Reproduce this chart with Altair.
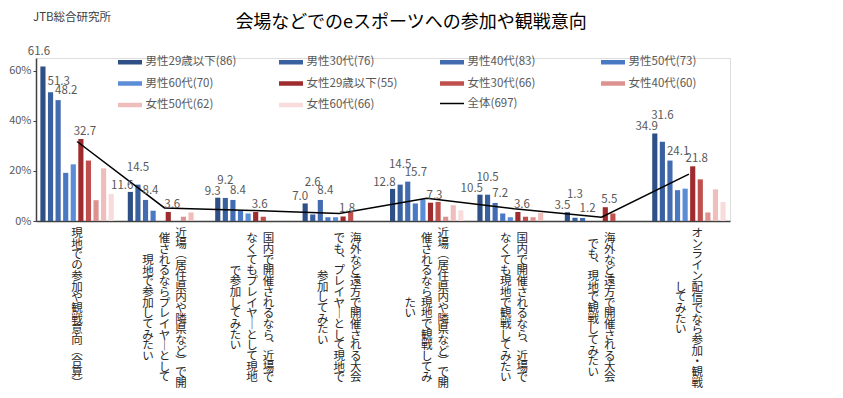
import altair as alt
import pandas as pd

FONT = "Noto Sans CJK JP"

title_text = "会場などでのeスポーツへの参加や観戦意向"
source_text = "JTB総合研究所"

# x-axis label text, one list of columns (right to left) per category
label_columns = [
    ["現地での参加や観戦意向(合算)"],
    ["近場(居住県内や隣県など)で開", "催されるならプレイヤーとして", "現地で参加してみたい"],
    ["国内で開催されるなら、近場で", "なくてもプレイヤーとして現地", "で参加してみたい"],
    ["海外など遠方で開催される大会", "でも、プレイヤーとして現地で", "参加してみたい"],
    ["近場(居住県内や隣県など)で開", "催されるなら現地で観戦してみ", "たい"],
    ["国内で開催されるなら、近場で", "なくても現地で観戦してみたい"],
    ["海外など遠方で開催される大会", "でも、現地で観戦してみたい"],
    ["オンライン配信でなら参加・観戦", "してみたい"],
]
categories = ["".join(c) for c in label_columns]

series = ["男性29歳以下(86)", "男性30代(76)", "男性40代(83)", "男性50代(73)", "男性60代(70)",
          "女性29歳以下(55)", "女性30代(66)", "女性40代(60)", "女性50代(62)", "女性60代(66)"]
total_name = "全体(697)"

m29 = [61.6, 11.6, 9.3, 7.0, 12.8, 10.5, 3.5, 34.9]
m30 = [51.3, 14.5, 9.2, 2.6, 14.5, 10.5, 1.3, 31.6]
m40 = [48.2, 8.4, 8.4, 8.4, 15.7, 7.2, 1.2, 24.1]
m50 = [19.2, 4.1, 4.1, 1.5, 7.0, 3.0, 0.0, 12.3]
m60 = [22.6, 0.0, 3.0, 1.5, 8.7, 1.5, 0.0, 12.9]
f29 = [32.7, 3.6, 3.6, 1.8, 7.3, 3.6, 5.5, 21.8]
f30 = [24.1, 0.0, 1.7, 3.7, 7.6, 1.7, 3.0, 16.6]
f40 = [8.3, 1.7, 0.0, 0.0, 1.7, 1.5, 0.0, 3.4]
f50 = [21.0, 3.4, 0.0, 0.0, 6.3, 3.3, 0.0, 12.6]
f60 = [10.8, 0.0, 0.0, 0.0, 4.3, 0.0, 0.0, 7.6]
total = [31.7, 5.2, 4.2, 3.0, 9.1, 4.9, 1.5, 18.7]

colors = ["#2E5086", "#3A619F", "#426BB0", "#4A79C4", "#5B8CD6",
          "#9E2B2E", "#C0504D", "#DD9290", "#F0BDBD", "#F8DCDC", "#000000"]
widths = [4.5] * 10 + [1.5]

values_by_series = [m29, m30, m40, m50, m60, f29, f30, f40, f50, f60]

# ---------- tables ----------
bars = pd.DataFrame([
    {"cat": categories[i], "series": s, "value": vals[i]}
    for s, vals in zip(series, values_by_series)
    for i in range(len(categories))
])
# label placement derived from the values: lift a label when its neighbours are close
peak3 = [max(a, b, c) for a, b, c in zip(m29, m30, m40)]
bars["label_y"] = bars["value"]
bars["lift"] = 0
for i, cat in enumerate(categories):
    if peak3[i] - m30[i] <= 6:
        sel = (bars["cat"] == cat) & (bars["series"] == series[1])
        bars.loc[sel, "label_y"] = peak3[i]
        bars.loc[sel, "lift"] = 1
    if m29[i] - max(m30[i], m40[i]) > 5:
        sel = (bars["cat"] == cat) & (bars["series"] == series[0])
        bars.loc[sel, "lift"] = 1

line_df = pd.DataFrame({"cat": categories, "value": total, "series": [total_name] * len(categories)})

LH = 10.7
vert_map = {"(": "︵", ")": "︶", "、": "︑", "ー": "｜"}
lab_rows = []
for cat, cols in zip(categories, label_columns):
    n = len(cols)
    for k, col in enumerate(cols):
        slot = int(round(2 * ((n - 1) / 2 - k)))
        txt = "\n".join(vert_map.get(ch, ch) for ch in col)
        lab_rows.append({"cat": cat, "txt": txt, "slot": slot, "nch": len(col)})
lab_df = pd.DataFrame(lab_rows)

# ---------- encodings ----------
x_axis = alt.Axis(labels=False, ticks=False, title=None, domainColor="#404040", domainWidth=1.5)
X = alt.X("cat:N", sort=categories, axis=x_axis,
          scale=alt.Scale(domain=categories, paddingInner=0.16, paddingOuter=0.05))
XO = alt.XOffset("series:N", scale=alt.Scale(domain=series, paddingInner=0.32, paddingOuter=0.0))
y_axis = alt.Axis(values=[0, 20, 40, 60], labelExpr="datum.value + '%'", title=None,
                  grid=False, domainColor="#404040", domainWidth=1.5, tickColor="#404040",
                  tickSize=3, labelFontSize=11, labelColor="#595959", labelPadding=2,
                  labelFont=FONT)
y_scale = alt.Scale(domain=[0, 65])
Y = alt.Y("value:Q", scale=y_scale, axis=y_axis)
YL = alt.Y("label_y:Q", scale=y_scale, axis=y_axis)

legend = alt.Legend(
    title=None, orient="none", legendX=85.5, legendY=-4.5, columns=4, direction="horizontal",
    symbolType="M-2,0H2", symbolSize=144,
    labelFontSize=11.5, labelColor="#595959", labelFont=FONT, labelOffset=7,
    columnPadding=33, rowPadding=2.5, gridAlign="all",
)
color_scale = alt.Scale(domain=series + [total_name], range=colors)
width_scale = alt.Scale(type="ordinal", domain=series + [total_name], range=widths)

bar_layer = alt.Chart(bars).mark_bar().encode(
    x=X, xOffset=XO, y=Y,
    color=alt.Color("series:N", scale=color_scale, legend=legend),
)

line_layer = alt.Chart(line_df).mark_line().encode(
    x=X, y=Y,
    color=alt.Color("series:N", scale=color_scale, legend=legend),
    strokeWidth=alt.StrokeWidth("series:N", scale=width_scale, legend=legend),
)

label_specs = [
    (series[0], 0, dict(align="right", dx=3, dy=-6)),
    (series[0], 1, dict(align="center", dx=-4, dy=-15)),
    (series[1], 1, dict(align="center", dx=0, dy=-17)),
    (series[1], 0, dict(align="left", dx=-3, dy=-10)),
    (series[2], None, dict(align="left", dx=-3, dy=-9)),
    (series[5], None, dict(align="center", dx=4, dy=-7)),
]
value_labels = []
for s, lift, kw in label_specs:
    flt = alt.datum.series == s
    if lift is not None:
        flt = flt & (alt.datum.lift == lift)
    value_labels.append(
        alt.Chart(bars).transform_filter(flt).mark_text(
            baseline="middle", fontSize=11.5, color="#595959", font=FONT, **kw
        ).encode(x=X, xOffset=XO, y=YL, text=alt.Text("value:Q", format=".1f"))
    )

# vertical category labels: columns centred on one line below the axis
cat_labels = []
for slot, nch in sorted(set(zip(lab_df["slot"], lab_df["nch"]))):
    cat_labels.append(
        alt.Chart(lab_df).transform_filter(
            (alt.datum.slot == int(slot)) & (alt.datum.nch == int(nch))
        ).mark_text(
            align="center", baseline="top", lineBreak="\n", fontSize=11.5,
            lineHeight=LH, color="#262626", font=FONT,
            dx=int(slot) * 8.25, dy=-int(nch) * LH / 2,
        ).encode(x=X, y=alt.value(250.3), text="txt:N")
    )

source_layer = alt.Chart(pd.DataFrame({"t": [source_text]})).mark_text(
    align="left", baseline="middle", fontSize=11.5, color="#404040", font=FONT
).encode(x=alt.value(-3), y=alt.value(-40), text="t:N")

title_layer = alt.Chart(pd.DataFrame({"t": [title_text]})).mark_text(
    align="center", baseline="middle", fontSize=18, color="#000000", font=FONT
).encode(x=alt.value(375), y=alt.value(-35), text="t:N")

chart = alt.layer(bar_layer, line_layer, *value_labels, *cat_labels, source_layer, title_layer).properties(
    width=694, height=163,
    autosize=alt.AutoSizeParams(type="none"),
    padding={"left": 28, "top": 50, "right": 100, "bottom": 169},
).configure_view(stroke=None).configure(font=FONT)

chart.save("out.html", embed_options={"renderer": "svg", "actions": False})
